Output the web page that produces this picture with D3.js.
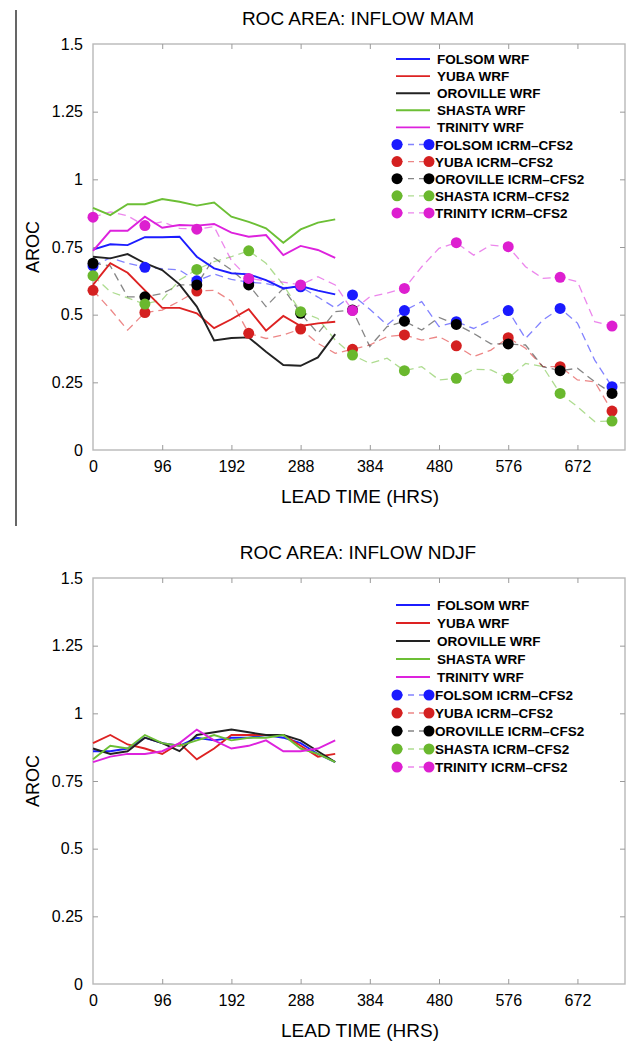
<!DOCTYPE html>
<meta charset="utf-8">
<style>
  body { margin: 0; background: #fff; }
  svg text { font-family: "Liberation Sans", Arial, sans-serif; }
</style>
<script src="https://d3js.org/d3.v7.min.js"></script>
<div id="chart"></div>
<script>
// lead times (hours)
var leadWRF = [0, 24, 48, 72, 96, 120, 144, 168, 192, 216, 240, 264, 288, 312, 336];
var leadICRM = [0, 24, 48, 72, 96, 120, 144, 168, 192, 216, 240, 264, 288, 312, 336,
  360, 384, 408, 432, 456, 480, 504, 528, 552, 576, 600, 624, 648, 672, 696, 720];
var xTicks = [0, 96, 192, 288, 384, 480, 576, 672];
var yTicks = [0, 0.25, 0.5, 0.75, 1, 1.25, 1.5];

var basins = ["FOLSOM", "YUBA", "OROVILLE", "SHASTA", "TRINITY"];
var lineColors = ["#1c1cff", "#dd2222", "#222222", "#6cbf35", "#dd22dd"];
var dotColors = ["#1a1aff", "#d42020", "#000000", "#6ab82e", "#dd1fd0"];

// MAM, WRF
var folsomWrfMam   = [0.74, 0.76, 0.757, 0.786, 0.786, 0.788, 0.714, 0.671, 0.653, 0.649, 0.628, 0.597, 0.606, 0.589, 0.575];
var yubaWrfMam     = [0.61, 0.69, 0.655, 0.59, 0.525, 0.525, 0.505, 0.45, 0.483, 0.52, 0.441, 0.495, 0.458, 0.468, 0.474];
var orovilleWrfMam = [0.714, 0.708, 0.724, 0.69, 0.665, 0.612, 0.53, 0.405, 0.414, 0.416, 0.363, 0.314, 0.311, 0.342, 0.428];
var shastaWrfMam   = [0.895, 0.868, 0.908, 0.908, 0.927, 0.917, 0.903, 0.914, 0.862, 0.843, 0.819, 0.766, 0.815, 0.84, 0.852];
var trinityWrfMam  = [0.736, 0.81, 0.81, 0.862, 0.821, 0.831, 0.829, 0.835, 0.803, 0.788, 0.794, 0.72, 0.754, 0.739, 0.71];

// MAM, ICRM-CFS2
var folsomIcrmMam   = [0.68, 0.71, 0.69, 0.675, 0.67, 0.665, 0.625, 0.65, 0.63, 0.62, 0.615, 0.6, 0.603, 0.565, 0.525,
  0.573, 0.52, 0.462, 0.515, 0.548, 0.456, 0.474, 0.449, 0.48, 0.515, 0.412, 0.48, 0.523, 0.469, 0.332, 0.234];
var yubaIcrmMam     = [0.59, 0.52, 0.443, 0.508, 0.517, 0.55, 0.587, 0.59, 0.55, 0.431, 0.412, 0.425, 0.447, 0.394, 0.357,
  0.372, 0.388, 0.419, 0.425, 0.406, 0.419, 0.385, 0.345, 0.369, 0.415, 0.376, 0.308, 0.308, 0.259, 0.252, 0.144];
var orovilleIcrmMam = [0.69, 0.68, 0.566, 0.566, 0.578, 0.61, 0.61, 0.71, 0.665, 0.61, 0.53, 0.597, 0.505, 0.431, 0.511,
  0.517, 0.382, 0.456, 0.476, 0.443, 0.49, 0.464, 0.431, 0.392, 0.392, 0.388, 0.308, 0.293, 0.302, 0.252, 0.209];
var shastaIcrmMam   = [0.644, 0.585, 0.562, 0.539, 0.555, 0.628, 0.667, 0.696, 0.714, 0.736, 0.69, 0.61, 0.511, 0.486, 0.406,
  0.351, 0.32, 0.339, 0.293, 0.308, 0.259, 0.265, 0.298, 0.296, 0.265, 0.32, 0.308, 0.209, 0.16, 0.105, 0.107];
var trinityIcrmMam  = [0.86, 0.88, 0.865, 0.829, 0.843, 0.819, 0.816, 0.825, 0.7, 0.634, 0.625, 0.62, 0.61, 0.64, 0.61,
  0.515, 0.566, 0.58, 0.597, 0.677, 0.745, 0.766, 0.72, 0.757, 0.751, 0.677, 0.634, 0.638, 0.622, 0.474, 0.458];

// NDJF, WRF
var folsomWrfNdjf   = [0.86, 0.86, 0.87, 0.91, 0.89, 0.88, 0.91, 0.9, 0.91, 0.91, 0.92, 0.91, 0.89, 0.85, 0.82];
var yubaWrfNdjf     = [0.89, 0.92, 0.885, 0.87, 0.85, 0.89, 0.83, 0.87, 0.92, 0.92, 0.92, 0.92, 0.88, 0.84, 0.85];
var orovilleWrfNdjf = [0.87, 0.85, 0.86, 0.91, 0.89, 0.86, 0.92, 0.93, 0.94, 0.93, 0.92, 0.92, 0.9, 0.86, 0.82];
var shastaWrfNdjf   = [0.83, 0.88, 0.87, 0.92, 0.89, 0.88, 0.9, 0.92, 0.9, 0.91, 0.91, 0.92, 0.87, 0.85, 0.82];
var trinityWrfNdjf  = [0.82, 0.84, 0.85, 0.85, 0.86, 0.89, 0.94, 0.9, 0.87, 0.88, 0.9, 0.86, 0.86, 0.87, 0.9];

var W = 633, H = 1042;
var svg = d3.select("#chart").append("svg").attr("width", W).attr("height", H);

// stray frame line on the left of the top panel
svg.append("line").attr("x1", 16).attr("x2", 16).attr("y1", 10).attr("y2", 526)
  .attr("stroke", "#000").attr("stroke-width", 1.2);

function panel(top, title, wrf, icrm, legendTop, legendStep) {
  var x = d3.scaleLinear().domain([0, 738]).range([93, 625]);
  var y = d3.scaleLinear().domain([0, 1.5]).range([top + 406, top]);
  var g = svg.append("g");

  // frame
  g.append("rect").attr("x", 93).attr("y", top).attr("width", 532).attr("height", 406)
    .attr("fill", "none").attr("stroke", "#b8b8b8").attr("stroke-width", 1.4);

  // axes, ticks inward on all four sides
  var axB = g.append("g").attr("transform", "translate(0," + (top + 406) + ")")
    .call(d3.axisBottom(x).tickValues(xTicks).tickSize(-5).tickPadding(11).tickFormat(d3.format("d")));
  var axT = g.append("g").attr("transform", "translate(0," + top + ")")
    .call(d3.axisTop(x).tickValues(xTicks).tickSize(-5).tickFormat(""));
  var axL = g.append("g").attr("transform", "translate(93,0)")
    .call(d3.axisLeft(y).tickValues(yTicks).tickSize(-5).tickPadding(10).tickFormat(d3.format("~g")));
  var axR = g.append("g").attr("transform", "translate(625,0)")
    .call(d3.axisRight(y).tickValues(yTicks).tickSize(-5).tickFormat(""));
  [axB, axT, axL, axR].forEach(function(a) {
    a.select(".domain").remove();
    a.selectAll(".tick line").attr("stroke", "#9a9a9a");
    a.selectAll("text").attr("fill", "#000").style("font-size", "16px");
  });
  axT.selectAll(".tick").filter(function(d) { return d === 0; }).remove();
  axB.selectAll(".tick line").filter(function(d) { return d === 0; }).remove();
  axL.selectAll(".tick line").filter(function(d) { return d === 0 || d === 1.5; }).remove();
  axR.selectAll(".tick line").filter(function(d) { return d === 0 || d === 1.5; }).remove();

  g.append("text").attr("x", 358).attr("y", top - 19).attr("text-anchor", "middle")
    .style("font-size", "19px").text(title);
  g.append("text").attr("x", 360).attr("y", top + 459).attr("text-anchor", "middle")
    .style("font-size", "19px").text("LEAD TIME (HRS)");
  g.append("text").attr("transform", "translate(39," + (top + 203) + ") rotate(-90)")
    .attr("text-anchor", "middle").style("font-size", "18px").text("AROC");

  var line = d3.line().x(function(d) { return x(d[0]); }).y(function(d) { return y(d[1]); });

  // ICRM-CFS2 dashed lines
  icrm.forEach(function(vals, i) {
    g.append("path").datum(d3.zip(leadICRM, vals)).attr("d", line)
      .attr("fill", "none").attr("stroke", lineColors[i]).attr("stroke-opacity", 0.55)
      .attr("stroke-width", 1.3).attr("stroke-dasharray", "8,5");
  });
  // WRF solid lines
  wrf.forEach(function(vals, i) {
    g.append("path").datum(d3.zip(leadWRF, vals)).attr("d", line)
      .attr("fill", "none").attr("stroke", lineColors[i]).attr("stroke-width", 1.9);
  });
  // ICRM-CFS2 markers every 72 h
  icrm.forEach(function(vals, i) {
    g.selectAll(null).data(d3.zip(leadICRM, vals).filter(function(d) { return d[0] % 72 === 0; }))
      .enter().append("circle")
      .attr("cx", function(d) { return x(d[0]); }).attr("cy", function(d) { return y(d[1]); })
      .attr("r", 5.5).attr("fill", dotColors[i]);
  });

  // legend
  var lg = g.append("g");
  basins.forEach(function(b, i) {
    var yy = legendTop + i * legendStep;
    lg.append("line").attr("x1", 396).attr("x2", 430).attr("y1", yy).attr("y2", yy)
      .attr("stroke", lineColors[i]).attr("stroke-width", 1.9);
    lg.append("text").attr("x", 437).attr("y", yy + 5).style("font-size", "13.5px")
      .style("font-weight", "bold").text(b + " WRF");
  });
  basins.forEach(function(b, i) {
    var yy = legendTop + (i + 5) * legendStep;
    lg.append("line").attr("x1", 397).attr("x2", 429).attr("y1", yy).attr("y2", yy)
      .attr("stroke", lineColors[i]).attr("stroke-opacity", 0.55).attr("stroke-width", 1.3)
      .attr("stroke-dasharray", "6,5");
    [397, 429].forEach(function(cx) {
      lg.append("circle").attr("cx", cx).attr("cy", yy).attr("r", 5.5).attr("fill", dotColors[i]);
    });
    lg.append("text").attr("x", 435).attr("y", yy + 5).style("font-size", "13.5px")
      .style("font-weight", "bold").text(b + " ICRM\u2013CFS2");
  });
}

panel(44, "ROC AREA: INFLOW MAM",
  [folsomWrfMam, yubaWrfMam, orovilleWrfMam, shastaWrfMam, trinityWrfMam],
  [folsomIcrmMam, yubaIcrmMam, orovilleIcrmMam, shastaIcrmMam, trinityIcrmMam], 59, 17.1);

panel(578, "ROC AREA: INFLOW NDJF",
  [folsomWrfNdjf, yubaWrfNdjf, orovilleWrfNdjf, shastaWrfNdjf, trinityWrfNdjf],
  [], 605, 18);
</script>
